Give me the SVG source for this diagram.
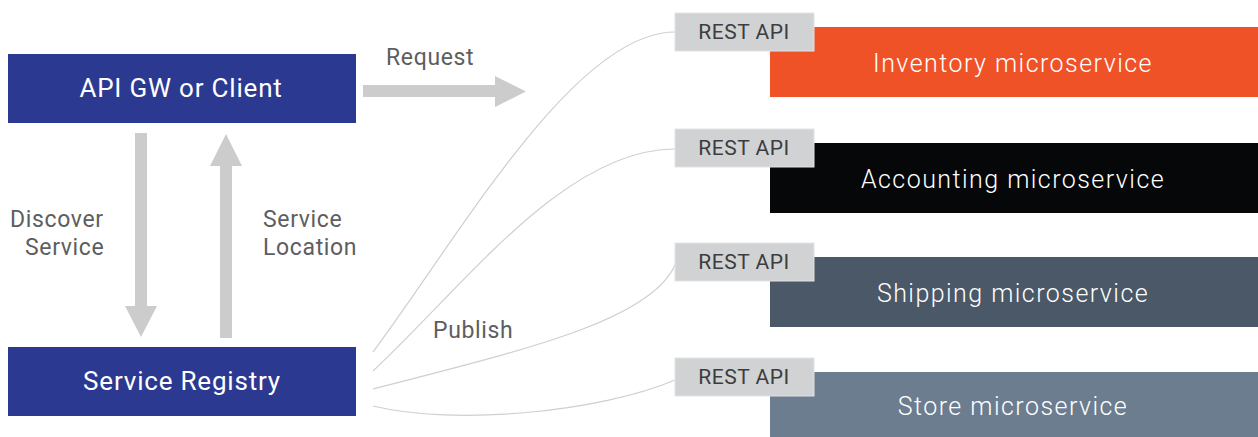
<svg xmlns="http://www.w3.org/2000/svg" width="1258" height="437" viewBox="0 0 1258 437">
  <defs>
    <style>
      .navy { fill: #2b3990; }
      .boxlabel { font-family: Roboto, "Liberation Sans", sans-serif; font-size: 26px; letter-spacing: 0.8px; fill: #ffffff; text-anchor: middle; }
      .svclabel { font-family: Roboto, "Liberation Sans", sans-serif; font-size: 25px; letter-spacing: 1.45px; fill: #ffffff; text-anchor: middle; font-weight: 300; }
      .note { font-family: Roboto, "Liberation Sans", sans-serif; font-size: 23px; letter-spacing: 0.65px; fill: #5d5e60; }
      .api { fill: #d1d2d4; stroke: #e2e3e4; stroke-width: 1; }
      .apilabel { font-family: Roboto, "Liberation Sans", sans-serif; font-size: 21px; letter-spacing: 0.5px; fill: #3c3d3f; text-anchor: middle; }
      .arrow { fill: #cccccc; }
      .wire { fill: none; stroke: #cfcfcf; stroke-width: 1.2; }
    </style>
  </defs>
  <rect width="1258" height="437" fill="#ffffff"/>

  <!-- publish links from the registry to each REST API -->
  <g id="connectors">
    <path class="wire" d="M373,352 C460,235 575,32 675,32"/>
    <path class="wire" d="M373,371 C465,285 565,149 675,149"/>
    <path class="wire" d="M373,389 C515,352 650,322 675,265"/>
    <path class="wire" d="M373,406 C455,426 600,412 675,380"/>

    <!-- Request: client to services -->
    <polygon class="arrow" points="363,85 495,85 495,76 526,91.5 495,107 495,97 363,97"/>
    <!-- Discover Service: client down to registry -->
    <polygon class="arrow" points="135,133 147,133 147,306 157,306 141,337 125,306 135,306"/>
    <!-- Service Location: registry up to client -->
    <polygon class="arrow" points="220,338 232,338 232,166 242,166 226,134 210,166 220,166"/>
  </g>

  <g id="labels">
    <text class="note" x="10" y="227">Discover</text>
    <text class="note" x="25" y="255">Service</text>
    <text class="note" x="263" y="227">Service</text>
    <text class="note" x="263" y="255">Location</text>
    <text class="note" x="386" y="65">Request</text>
    <text class="note" x="433" y="338">Publish</text>
  </g>

  <g id="client">
    <rect class="navy" x="8" y="54" width="348" height="69"/>
    <text class="boxlabel" x="181" y="97">API GW or Client</text>
  </g>

  <g id="registry">
    <rect class="navy" x="8" y="347" width="348" height="69"/>
    <text class="boxlabel" x="182" y="390">Service Registry</text>
  </g>

  <g id="inventory">
    <rect x="770" y="27" width="488" height="70" fill="#f05228"/>
    <text class="svclabel" x="1013" y="72">Inventory microservice</text>
    <rect class="api" x="675" y="13" width="139" height="38"/>
    <text class="apilabel" x="744" y="39">REST API</text>
  </g>

  <g id="accounting">
    <rect x="770" y="143" width="488" height="70" fill="#050708"/>
    <text class="svclabel" x="1013" y="188">Accounting microservice</text>
    <rect class="api" x="675" y="129" width="139" height="38"/>
    <text class="apilabel" x="744" y="155">REST API</text>
  </g>

  <g id="shipping">
    <rect x="770" y="257" width="488" height="70" fill="#4a5867"/>
    <text class="svclabel" x="1013" y="302">Shipping microservice</text>
    <rect class="api" x="675" y="243" width="139" height="38"/>
    <text class="apilabel" x="744" y="269">REST API</text>
  </g>

  <g id="store">
    <rect x="770" y="372" width="488" height="65" fill="#6c7d8f"/>
    <text class="svclabel" x="1013" y="415">Store microservice</text>
    <rect class="api" x="675" y="358" width="139" height="38"/>
    <text class="apilabel" x="744" y="384">REST API</text>
  </g>
</svg>
